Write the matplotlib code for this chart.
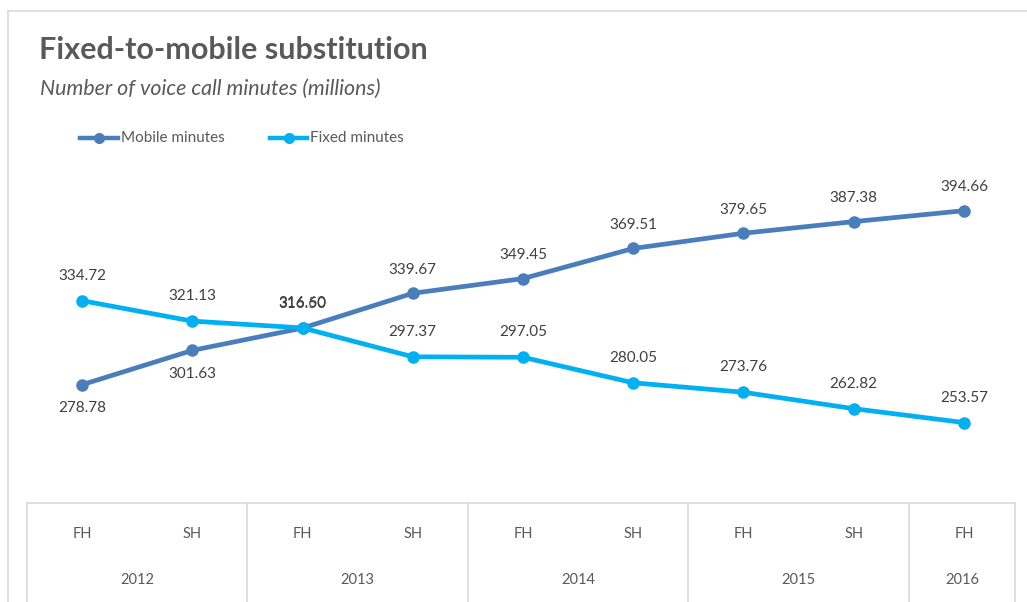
import matplotlib
matplotlib.use("Agg")
import matplotlib.pyplot as plt
from matplotlib.lines import Line2D

halves = ["FH", "SH", "FH", "SH", "FH", "SH", "FH", "SH", "FH"]
years = ["2012", "2013", "2014", "2015", "2016"]
year_spans = [2, 2, 2, 2, 1]
mobile = [278.78, 301.63, 316.50, 339.67, 349.45, 369.51, 379.65, 387.38, 394.66]
fixed = [334.72, 321.13, 316.60, 297.37, 297.05, 280.05, 273.76, 262.82, 253.57]
mobile_label_pos = ["below", "below", "above", "above", "above", "above", "above", "above", "above"]

MOBILE_C = "#4A7EBB"
FIXED_C = "#00B0F0"
TEXT_C = "#595959"
GRID_C = "#D9D9D9"
FONT = ["Lato", "DejaVu Sans"]

W, H = 1027, 602
fig = plt.figure(figsize=(W / 100, H / 100), dpi=100)

def fx(px):
    return px / W

def fy(py):
    return 1 - py / H

# outer chart frame
fig.add_artist(Line2D([fx(8), fx(8)], [fy(11), 0], transform=fig.transFigure, color=GRID_C, lw=1.2))
fig.add_artist(Line2D([fx(8), 1], [fy(11), fy(11)], transform=fig.transFigure, color=GRID_C, lw=1.2))

# plot area: x from 27 to 1019 px, y bottom at 503 px
ymin, ymax = 200, 450
ppu = 1.5016
top_px = 503 - (ymax - ymin) * ppu
ax = fig.add_axes([fx(27), fy(503), fx(1019) - fx(27), (503 - top_px) / H])
ax.set_xlim(-0.5, len(halves) - 0.5)
ax.set_ylim(ymin, ymax)
ax.axis("off")

x = list(range(len(halves)))
ax.plot(x, mobile, color=MOBILE_C, lw=3.4, marker="o", ms=8, zorder=3)
ax.plot(x, fixed, color=FIXED_C, lw=3.4, marker="o", ms=8, zorder=4)

for i, v in enumerate(mobile):
    dy = 17 if mobile_label_pos[i] == "above" else -17
    ax.annotate(f"{v:.2f}", (i, v), xytext=(0, dy), textcoords="offset points",
                ha="center", va="center", fontsize=11, color="#404040", family=FONT)
for i, v in enumerate(fixed):
    ax.annotate(f"{v:.2f}", (i, v), xytext=(0, 18), textcoords="offset points",
                ha="center", va="center", fontsize=11, color="#404040", family=FONT)

# category axis drawn as a two-level table
cat_w = (1019 - 27) / len(halves)
fig.add_artist(Line2D([fx(27), fx(1015)], [fy(503), fy(503)], transform=fig.transFigure, color=GRID_C, lw=1.2))
start = 0
bounds = [27]
for span in year_spans:
    start += span
    bounds.append(min(27 + cat_w * start, 1015))
for b in bounds:
    fig.add_artist(Line2D([fx(b), fx(b)], [fy(503), 0], transform=fig.transFigure, color=GRID_C, lw=1.2))
for i, h in enumerate(halves):
    fig.text(fx(27 + cat_w * (i + 0.5)), fy(534), h, ha="center", va="center",
             fontsize=10.5, color=TEXT_C, family=FONT)
for j, yr in enumerate(years):
    fig.text(fx((bounds[j] + bounds[j + 1]) / 2), fy(580), yr, ha="center", va="center",
             fontsize=10.5, color=TEXT_C, family=FONT)

# titles
fig.text(fx(39), fy(50), "Fixed-to-mobile substitution", ha="left", va="center",
         fontsize=22, fontweight="bold", color=TEXT_C, family=FONT)
fig.text(fx(40), fy(89), "Number of voice call minutes (millions)", ha="left", va="center",
         fontsize=15.4, style="italic", color=TEXT_C, family=FONT)

# legend
for (x0, x1, label, c) in [(80, 118, "Mobile minutes", MOBILE_C), (270, 307, "Fixed minutes", FIXED_C)]:
    fig.add_artist(Line2D([fx(x0), fx(x1)], [fy(138), fy(138)], transform=fig.transFigure,
                          color=c, lw=3.2))
    fig.add_artist(Line2D([fx((x0 + x1) / 2)], [fy(138)], transform=fig.transFigure,
                          color=c, marker="o", ms=7))
    fig.text(fx(x1 + 3), fy(138), label, ha="left", va="center", fontsize=11,
             color=TEXT_C, family=FONT)

fig.savefig("out.png", dpi=100, facecolor="white")
